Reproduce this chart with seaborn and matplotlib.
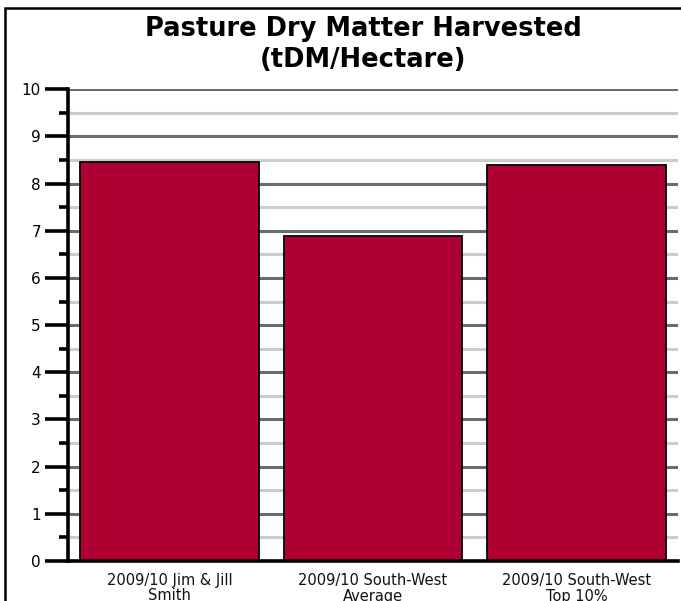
import matplotlib
matplotlib.use("Agg")
import matplotlib.pyplot as plt
import seaborn as sns
import pandas as pd
from matplotlib.patches import Rectangle
from matplotlib.ticker import MultipleLocator

categories = ["2009/10 Jim & Jill\nSmith", "2009/10 South-West\nAverage", "2009/10 South-West\nTop 10%"]
values = [8.46, 6.89, 8.40]
title = "Pasture Dry Matter Harvested\n(tDM/Hectare)"

df = pd.DataFrame({"cat": categories, "val": values})

sns.set_theme(style="white")
plt.rcParams['font.family'] = ['DejaVu Sans']

W, H = 681, 601
fig = plt.figure(figsize=(W / 100, H / 100), dpi=100)
ax = fig.add_axes([68 / W, (H - 561) / H, (678 - 68) / W, (561 - 89.3) / H])

sns.barplot(data=df, x="cat", y="val", color="#AF0033", saturation=1, width=0.88,
            edgecolor="black", linewidth=1.3, ax=ax, zorder=3)

ax.set_xlim(-0.5, 2.5)
ax.set_ylim(0, 10)
ax.yaxis.set_major_locator(MultipleLocator(1))
ax.yaxis.set_minor_locator(MultipleLocator(0.5))
ax.grid(False)
for v in range(1, 11):
    ax.axhline(v, color="#6b6b6b", lw=2.2, zorder=1)
for v in [x + 0.5 for x in range(0, 10)]:
    ax.axhline(v, color="#cccccc", lw=2.2, zorder=1)

for s in ["top", "right"]:
    ax.spines[s].set_visible(False)
for s in ["left", "bottom"]:
    ax.spines[s].set_color("black")
    ax.spines[s].set_linewidth(2.6)
    ax.spines[s].set_zorder(5)

ax.tick_params(axis="y", which="major", direction="out", length=16.5, width=2.6,
               color="black", labelsize=11, pad=3, left=True, labelcolor="black")
ax.tick_params(axis="y", which="minor", direction="out", length=6.5, width=2.6,
               color="black", left=True)
ax.tick_params(axis="x", which="both", length=0, labelsize=10.5, pad=9, labelcolor="#111111")
ax.set_xlabel("")
ax.set_ylabel("")
for lbl in ax.get_xticklabels():
    lbl.set_linespacing(1.0)

fig.text(363 / W, 1 - 16 / H, title, ha="center", va="top", fontsize=18.5,
         fontweight="bold", color="black", linespacing=1.25)

fig.patches.append(Rectangle((5 / W, -0.1), 1.2, 1 - 8 / H + 0.1, transform=fig.transFigure,
                             fill=False, edgecolor="black", lw=1.8, zorder=10))

fig.savefig("out.png", dpi=100)
